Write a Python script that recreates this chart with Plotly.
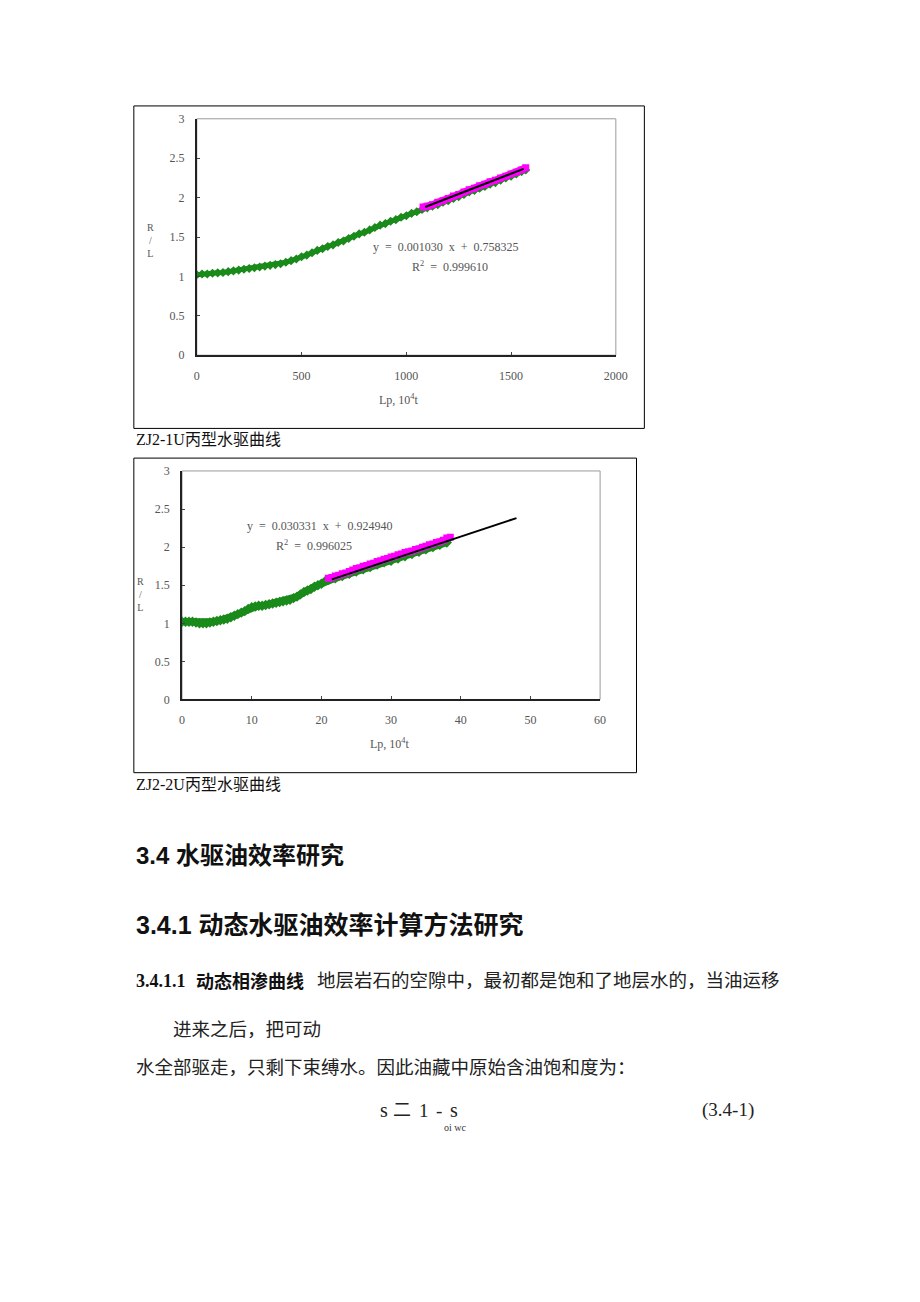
import plotly.graph_objects as go

W, H = 920, 1302

# ---------------- data: chart 1 (ZJ2-1U) ----------------
c1_green_x = [0, 25, 50, 75, 100, 125, 150, 175, 200, 225, 250, 275, 300, 325, 350, 375, 400,
              425, 450, 475, 500, 525, 550, 575, 600, 625, 650, 675, 700, 725, 750, 775, 800,
              825, 850, 875, 900, 925, 950, 975, 1000, 1025, 1050, 1075, 1100, 1125, 1150, 1175,
              1200, 1225, 1250, 1275, 1300, 1325, 1350, 1375, 1400, 1425, 1450, 1475, 1500,
              1525, 1550, 1570]
c1_green_y = [1.02, 1.03, 1.03, 1.04, 1.045, 1.05, 1.06, 1.07, 1.08, 1.09, 1.10, 1.11, 1.12, 1.13,
              1.14, 1.15, 1.16, 1.18, 1.20, 1.22, 1.25, 1.27, 1.30, 1.33, 1.35, 1.38, 1.40, 1.43,
              1.45, 1.48, 1.51, 1.54, 1.56, 1.59, 1.62, 1.65, 1.67, 1.70, 1.72, 1.75, 1.77, 1.80,
              1.82, 1.85, 1.87, 1.89, 1.91, 1.94, 1.96, 1.99, 2.01, 2.04, 2.07, 2.09, 2.12, 2.14,
              2.17, 2.19, 2.22, 2.25, 2.27, 2.30, 2.33, 2.35]
c1_pink_x = [1080, 1100, 1125, 1150, 1175, 1200, 1225, 1250, 1275, 1300, 1325, 1350, 1375, 1400,
             1425, 1450, 1475, 1500, 1525, 1550, 1570]
c1_pink_y = [1.88, 1.89, 1.91, 1.94, 1.96, 1.99, 2.02, 2.04, 2.07, 2.10, 2.12, 2.15, 2.17, 2.20,
             2.22, 2.25, 2.27, 2.30, 2.32, 2.35, 2.38]
c1_fit_x = [1090, 1560]
c1_fit_y = [1.881, 2.365]
c1_xticks = [0, 500, 1000, 1500, 2000]
c1_yticks = [0, 0.5, 1, 1.5, 2, 2.5, 3]
c1_ytext = ["0", "0.5", "1", "1.5", "2", "2.5", "3"]

# ---------------- data: chart 2 (ZJ2-2U) ----------------
c2_green_x = [0, 0.5, 1, 1.5, 2, 2.5, 3, 3.5, 4, 4.5, 5, 5.5, 6, 6.5, 7, 7.5, 8, 8.5, 9, 9.5, 10,
              10.5, 11, 11.5, 12, 12.5, 13, 13.5, 14, 14.5, 15, 15.5, 16, 16.5, 17, 17.5, 18, 18.5,
              19, 19.5, 20, 20.5, 21, 22, 23, 24, 25, 26, 27, 28, 29, 30, 31, 32, 33, 34, 35, 36,
              37, 38]
c2_green_y = [1.02, 1.02, 1.02, 1.02, 1.01, 1.00, 1.00, 1.00, 1.01, 1.02, 1.03, 1.04, 1.05, 1.06,
              1.08, 1.10, 1.12, 1.14, 1.16, 1.19, 1.21, 1.22, 1.23, 1.23, 1.24, 1.25, 1.26, 1.27,
              1.28, 1.29, 1.30, 1.31, 1.33, 1.35, 1.38, 1.41, 1.43, 1.45, 1.48, 1.50, 1.52, 1.55,
              1.57, 1.59, 1.62, 1.65, 1.68, 1.71, 1.74, 1.77, 1.80, 1.82, 1.85, 1.88, 1.91, 1.94,
              1.97, 2.00, 2.03, 2.06]
c2_pink_x = [21, 21.5, 22, 22.5, 23, 23.5, 24, 24.5, 25, 25.5, 26, 26.5, 27, 27.5, 28, 28.5, 29,
             29.5, 30, 30.5, 31, 31.5, 32, 32.5, 33, 33.5, 34, 34.5, 35, 35.5, 36, 36.5, 37, 37.5,
             38, 38.5]
c2_pink_y = [1.59, 1.60, 1.62, 1.63, 1.65, 1.66, 1.68, 1.70, 1.72, 1.73, 1.75, 1.76, 1.78, 1.79,
             1.81, 1.82, 1.84, 1.85, 1.87, 1.88, 1.90, 1.91, 1.93, 1.94, 1.95, 1.97, 1.98, 2.00,
             2.01, 2.03, 2.04, 2.06, 2.07, 2.09, 2.12, 2.13]
c2_fit_x = [21.5, 48]
c2_fit_y = [1.577, 2.381]
c2_xticks = [0, 10, 20, 30, 40, 50, 60]
c2_yticks = c1_yticks
c2_ytext = c1_ytext

GREEN = "#1a8a1a"
PINK = "#ff00ff"
SERIF = "Liberation Serif, DejaVu Serif, serif"
CJK_SERIF = "Liberation Serif, Noto Sans CJK SC, serif"
CJK_SANS = "Liberation Sans, Noto Sans CJK SC, sans-serif"


def px(x):
    return x / W


def py(y):
    return 1 - y / H


fig = go.Figure()


def band(xs, ys, xa, ya, color, symbol, msize, lwidth):
    fig.add_trace(go.Scatter(x=xs, y=ys, mode="lines+markers", xaxis=xa, yaxis=ya,
                             line=dict(color=color, width=lwidth),
                             marker=dict(symbol=symbol, size=msize, color=color,
                                         line=dict(width=0))))


# chart 1 traces
band(c1_green_x, c1_green_y, "x", "y", GREEN, "diamond", 7, 5)
band(c1_pink_x, c1_pink_y, "x", "y", PINK, "square", 7, 7)
fig.add_trace(go.Scatter(x=c1_fit_x, y=c1_fit_y, mode="lines", xaxis="x", yaxis="y",
                         line=dict(color="black", width=2)))

# chart 2 traces
band(c2_green_x, c2_green_y, "x2", "y2", GREEN, "diamond", 8, 7)
band(c2_pink_x, c2_pink_y, "x2", "y2", PINK, "square", 7, 6)
fig.add_trace(go.Scatter(x=c2_fit_x, y=c2_fit_y, mode="lines", xaxis="x2", yaxis="y2",
                         line=dict(color="black", width=2)))

tickfont = dict(family=SERIF, size=12, color="#555")
axis_common = dict(showgrid=False, zeroline=False, showline=True, linecolor="#222", linewidth=2,
                   ticks="inside", ticklen=3, tickwidth=1, tickcolor="#444", tickfont=tickfont,
                   fixedrange=True)

fig.update_layout(
    width=W, height=H, margin=dict(l=0, r=0, t=0, b=0),
    paper_bgcolor="white", plot_bgcolor="white", showlegend=False,
    xaxis=dict(domain=[px(197), px(623)], range=[0, 2000], tickvals=c1_xticks,
               anchor="y", ticklabelstandoff=8, **axis_common),
    yaxis=dict(domain=[py(352), py(113)], range=[0, 3], tickvals=c1_yticks, ticktext=c1_ytext,
               anchor="x", ticklabelstandoff=8, **axis_common),
    xaxis2=dict(domain=[px(182), px(607)], range=[0, 60], tickvals=c2_xticks,
                anchor="y2", ticklabelstandoff=8, **axis_common),
    yaxis2=dict(domain=[py(700), py(469)], range=[0, 3], tickvals=c2_yticks, ticktext=c2_ytext,
                anchor="x2", ticklabelstandoff=8, **axis_common),
)

shapes = []
# plot-area grey borders
for xr, yr in (("x domain", "y domain"), ("x2 domain", "y2 domain")):
    shapes.append(dict(type="rect", xref=xr, yref=yr, x0=0, x1=1, y0=0, y1=1,
                       line=dict(color="#9a9a9a", width=1), layer="below"))
# outer boxes
shapes.append(dict(type="rect", xref="paper", yref="paper", x0=px(133), x1=px(652),
                   y0=py(426), y1=py(100), line=dict(color="black", width=1)))
shapes.append(dict(type="rect", xref="paper", yref="paper", x0=px(133), x1=px(644),
                   y0=py(774), y1=py(456), line=dict(color="black", width=1)))
fig.update_layout(shapes=shapes)

ann = []


def text(x, y, s, size, family=CJK_SERIF, color="#222", xanchor="left", bold=False):
    if bold:
        s = "<b>" + s + "</b>"
    ann.append(dict(xref="paper", yref="paper", x=px(x), y=py(y), text=s, showarrow=False,
                    xanchor=xanchor, yanchor="middle",
                    font=dict(family=family, size=size, color=color)))


eqfont = SERIF
# chart 1 annotations
text(450, 243, "y  =  0.001030  x  +  0.758325", 12, eqfont, "#555", "center")
text(454, 262, "R<sup>2</sup>  =  0.999610", 12, eqfont, "#555", "center")
text(403, 397, "Lp, 10<sup>4</sup>t", 12, eqfont, "#555", "center")
text(150, 236, "R<br>/<br>L", 10, eqfont, "#555", "center")
# chart 2 annotations
text(322, 525, "y  =  0.030331  x  +  0.924940", 12, eqfont, "#555", "center")
text(316, 544, "R<sup>2</sup>  =  0.996025", 12, eqfont, "#555", "center")
text(393, 745, "Lp, 10<sup>4</sup>t", 12, eqfont, "#555", "center")
text(140, 594, "R<br>/<br>L", 10, eqfont, "#555", "center")

# captions
text(133, 437, "ZJ2-1U丙型水驱曲线", 16, CJK_SERIF, "#111")
text(133, 786, "ZJ2-2U丙型水驱曲线", 16, CJK_SERIF, "#111")

# headings and body
text(133, 858, "3.4 水驱油效率研究", 24, CJK_SANS, "#111", bold=True)
text(133, 928, "3.4.1 动态水驱油效率计算方法研究", 25, CJK_SANS, "#111", bold=True)
text(133, 985, "3.4.1.1", 18, CJK_SERIF, "#111", bold=True)
text(194, 985, "动态相渗曲线", 18, CJK_SERIF, "#111", bold=True)
text(317, 985, "地层岩石的空隙中，最初都是饱和了地层水的，当油运移", 18.5, CJK_SERIF, "#222")
text(171, 1034, "进来之后，把可动", 18.5, CJK_SERIF, "#222")
text(133, 1073, "水全部驱走，只剩下束缚水。因此油藏中原始含油饱和度为：", 18.5, CJK_SERIF, "#222")
# formula pieces
text(387, 1115, "s", 20, CJK_SERIF, "#222", "center")
text(406, 1115, "二", 18, CJK_SERIF, "#222", "center")
text(428, 1115, "1", 19, CJK_SERIF, "#222", "center")
text(443, 1115, "-", 19, CJK_SERIF, "#222", "center")
text(458, 1115, "s", 20, CJK_SERIF, "#222", "center")
text(460, 1133, "oi wc", 10, SERIF, "#333", "center")
text(709, 1115, "(3.4-1)", 19, SERIF, "#222")

fig.update_layout(annotations=ann)

fig.write_html("out.html")
